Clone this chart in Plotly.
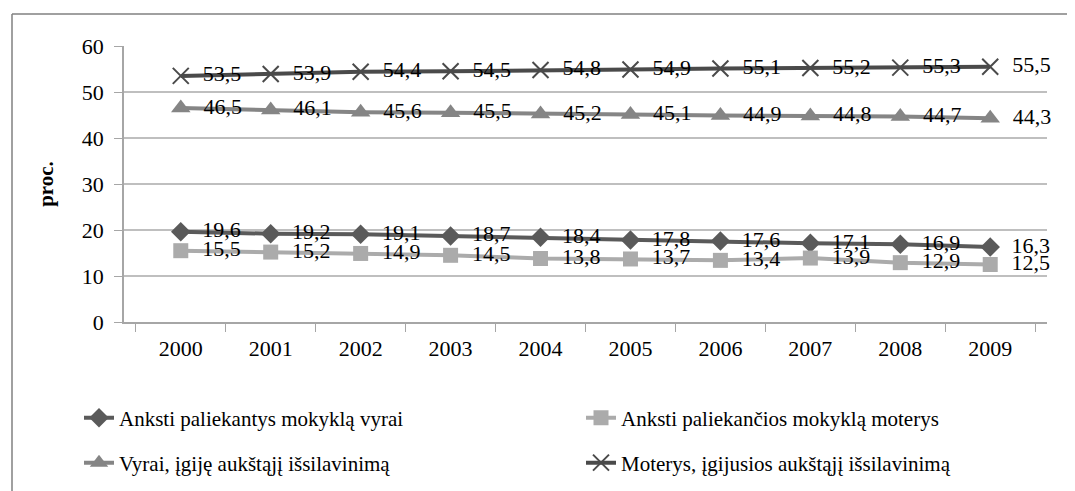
import plotly.graph_objects as go

years = ["2000", "2001", "2002", "2003", "2004", "2005", "2006", "2007", "2008", "2009"]
vyrai_anksti = [19.6, 19.2, 19.1, 18.7, 18.4, 17.8, 17.6, 17.1, 16.9, 16.3]
moterys_anksti = [15.5, 15.2, 14.9, 14.5, 13.8, 13.7, 13.4, 13.9, 12.9, 12.5]
vyrai_aukst = [46.5, 46.1, 45.6, 45.5, 45.2, 45.1, 44.9, 44.8, 44.7, 44.3]
moterys_aukst = [53.5, 53.9, 54.4, 54.5, 54.8, 54.9, 55.1, 55.2, 55.3, 55.5]

names = [
    "Anksti paliekantys mokyklą vyrai",
    "Anksti paliekančios mokyklą moterys",
    "Vyrai, įgiję aukštąjį išsilavinimą",
    "Moterys, įgijusios aukštąjį išsilavinimą",
]
series = [vyrai_anksti, moterys_anksti, vyrai_aukst, moterys_aukst]
colors = ["#5a5a5a", "#ababab", "#858585", "#4a4a4a"]
symbols = ["diamond", "square", "triangle-up", "x-thin"]
sizes = [15, 15, 17, 16]
legends = ["legend", "legend", "legend2", "legend2"]

FONT = '"Liberation Serif", "Times New Roman", Times, serif'

fig = go.Figure()
for name, vals, col, sym, sz, lg in zip(names, series, colors, symbols, sizes, legends):
    marker = dict(symbol=sym, size=sz, color=col)
    if sym == "x-thin":
        marker["line"] = dict(color=col, width=2)
    fig.add_trace(go.Scatter(
        x=years, y=vals, name=name, mode="lines+markers+text",
        line=dict(color=col, width=4),
        marker=marker,
        texttemplate="\u00a0\u00a0%{y:.1f}", textposition="middle right",
        textfont=dict(family=FONT, size=22, color="#000000"),
        cliponaxis=False, legend=lg,
    ))

leg_common = dict(
    orientation="h", xanchor="left", yanchor="middle",
    font=dict(family=FONT, size=21, color="#000000"),
    entrywidth=457, entrywidthmode="pixels",
    traceorder="normal", bgcolor="rgba(0,0,0,0)",
)
# plot area height 276 px, bottom at 322
fig.update_layout(
    width=1075, height=491,
    margin=dict(l=116, r=36, t=38, b=177),
    paper_bgcolor="white", plot_bgcolor="white",
    separators=", ",
    font=dict(family=FONT, size=22, color="#000000"),
    showlegend=True,
    legend=dict(x=-0.0155, y=-(418 - 322) / 276, **leg_common),
    legend2=dict(x=-0.0155, y=-(463 - 322) / 276, **leg_common),
    shapes=[
        dict(type="line", xref="paper", yref="paper",
             x0=-112/923, x1=1.1, y0=1 + 32/276, y1=1 + 32/276,
             line=dict(color="#808080", width=1.5)),
        dict(type="line", xref="paper", yref="paper",
             x0=-112/923, x1=-112/923, y0=1 + 32/276, y1=-0.7,
             line=dict(color="#808080", width=1.5)),
    ],
)
fig.update_xaxes(
    type="category", tickson="boundaries", ticks="outside", ticklen=8,
    tickcolor="#a6a6a6", showline=True, linecolor="#a6a6a6", linewidth=1.5,
    showgrid=False, tickfont=dict(family=FONT, size=22, color="#000000"),
    ticklabelstandoff=6,
)
fig.update_yaxes(
    range=[0, 60], dtick=10, ticks="outside", ticklen=8, tickcolor="#a6a6a6",
    showline=True, linecolor="#a6a6a6", linewidth=1.5,
    showgrid=True, gridcolor="#bfbfbf", gridwidth=1.5, zeroline=False,
    tickfont=dict(family=FONT, size=22, color="#000000"), ticklabelstandoff=6,
    title=dict(text="<b>proc.</b>", font=dict(family=FONT, size=21, color="#000000"), standoff=22),
)

fig.write_html("out.html")
